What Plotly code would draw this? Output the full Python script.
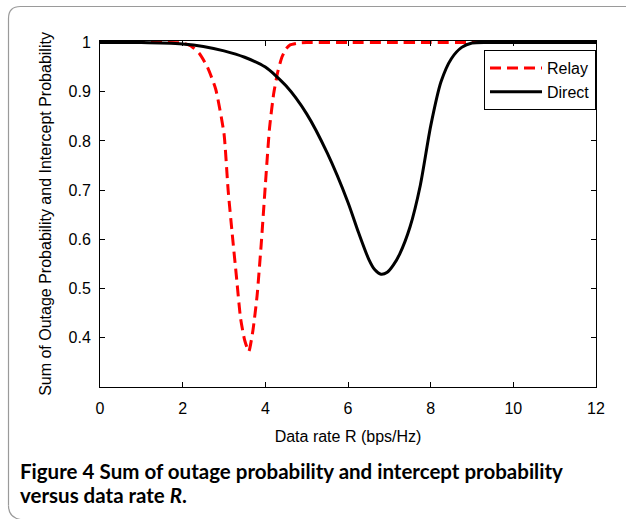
import plotly.graph_objects as go

# ---- data ----
R_relay = [0, 0.5, 1.0, 1.5, 2.0, 2.2, 2.4, 2.6, 2.8, 3.0, 3.1, 3.2, 3.3, 3.4, 3.5, 3.6,
           3.7, 3.8, 3.9, 4.0, 4.1, 4.2, 4.3, 4.4, 4.5, 4.6, 4.8, 5.0, 6, 7, 8, 9, 10, 11, 12]
P_relay = [1, 1, 1, 1, 0.999, 0.993, 0.978, 0.95, 0.905, 0.815, 0.70, 0.61, 0.525, 0.44, 0.395, 0.372,
           0.415, 0.485, 0.59, 0.71, 0.825, 0.895, 0.94, 0.97, 0.987, 0.995, 0.999, 1, 1, 1, 1, 1, 1, 1, 1]

R_direct = [0, 1, 2, 2.5, 3, 3.5, 4, 4.5, 5, 5.5, 6, 6.25, 6.5, 6.65, 6.8, 6.95, 7.1, 7.25, 7.5,
            7.75, 8, 8.25, 8.5, 8.75, 9, 9.5, 10, 11, 12]
P_direct = [1, 1, 0.997, 0.992, 0.983, 0.97, 0.95, 0.912, 0.855, 0.775, 0.675, 0.615, 0.56, 0.538,
            0.529, 0.533, 0.548, 0.57, 0.625, 0.71, 0.83, 0.92, 0.967, 0.99, 0.999, 1, 1, 1, 1]

x_ticks = [0, 2, 4, 6, 8, 10, 12]
y_ticks = [0.4, 0.5, 0.6, 0.7, 0.8, 0.9, 1.0]
y_ticktext = ["0.4", "0.5", "0.6", "0.7", "0.8", "0.9", "1"]

# ---- figure ----
W, H = 626, 519
ML, MR, MT, MB = 100, 30, 41, 132
PW, PH = W - ML - MR, H - MT - MB

fig = go.Figure()
fig.add_trace(go.Scatter(x=R_relay, y=P_relay, mode="lines", name="Relay",
                         line=dict(color="#ff0000", width=3, dash="11px,6px", shape="spline", smoothing=0.5)))
fig.add_trace(go.Scatter(x=R_direct, y=P_direct, mode="lines", name="Direct",
                         line=dict(color="black", width=3, shape="spline", smoothing=0.7)))

FONT = "Liberation Sans, Arial, sans-serif"
axis_font = dict(family=FONT, size=16, color="black")

fig.update_xaxes(range=[0, 12], tickvals=x_ticks, ticks="inside", ticklen=5, tickcolor="black",
                 showline=True, linecolor="black", linewidth=1, mirror="ticks",
                 showgrid=False, zeroline=False, tickfont=axis_font, ticklabelstandoff=7,
                 title=dict(text="Data rate R (bps/Hz)", font=dict(family=FONT, size=16, color="black"), standoff=14))
fig.update_yaxes(range=[0.3, 1.003], tickvals=y_ticks, ticktext=y_ticktext, ticks="inside", ticklen=5,
                 tickcolor="black", showline=True, linecolor="black", linewidth=1, mirror="ticks",
                 showgrid=False, zeroline=False, tickfont=axis_font, ticklabelstandoff=5,
                 title=dict(text="Sum of Outage Probability and Intercept Probability",
                            font=dict(family=FONT, size=16, color="black"), standoff=12))


def px(x):
    return (x - ML) / PW


def py(y):
    return (H - MB - y) / PH


# rounded figure frame (left & top edges visible, runs off the right/bottom)
r = 12
x0, y0, x1, y1 = 8.5, 6.5, 640, 517.5
path = (f"M {px(x0)},{py(y1 - r)} L {px(x0)},{py(y0 + r)} "
        f"Q {px(x0)},{py(y0)} {px(x0 + r)},{py(y0)} L {px(x1)},{py(y0)}")
fig.add_shape(type="path", xref="paper", yref="paper", path=path,
              line=dict(color="#9a9a9a", width=1.2), layer="below")
path2 = (f"M {px(x0)},{py(y1 - r)} Q {px(x0)},{py(y1)} {px(x0 + r)},{py(y1 + 2)}")
fig.add_shape(type="path", xref="paper", yref="paper", path=path2,
              line=dict(color="#9a9a9a", width=1.2), layer="below")

cap_font = dict(family="Lato, Noto Sans, sans-serif", size=20.5, color="black")
fig.add_annotation(xref="paper", yref="paper", x=px(18), y=py(470.5), xanchor="left", yanchor="middle",
                   text="<b>Figure 4</b> <b>Sum of outage probability and intercept probability</b>",
                   showarrow=False, font=cap_font)
fig.add_annotation(xref="paper", yref="paper", x=px(18), y=py(495.5), xanchor="left", yanchor="middle",
                   text="<b>versus data rate <i>R</i>.</b>", showarrow=False, font=cap_font)

fig.update_layout(
    width=W, height=H, margin=dict(l=ML, r=MR, t=MT, b=MB),
    paper_bgcolor="white", plot_bgcolor="white",
    showlegend=True,
    legend=dict(x=px(596), y=py(50), xanchor="right", yanchor="top",
                bgcolor="white", bordercolor="black", borderwidth=1,
                font=dict(family=FONT, size=16, color="black"),
                tracegroupgap=0, itemwidth=52),
)

fig.write_html("out.html", post_script="document.body.style.margin='0';",
               config={"displayModeBar": False})
